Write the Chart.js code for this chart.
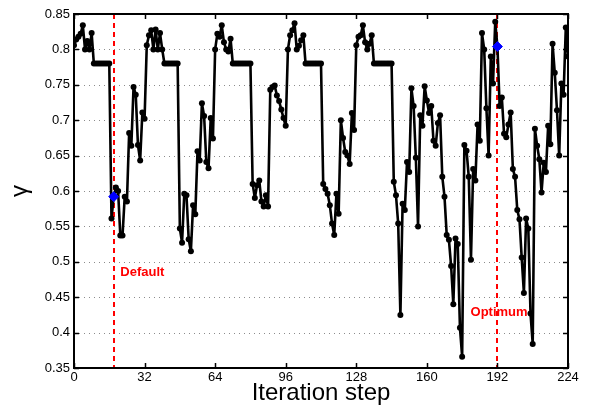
<!DOCTYPE html>
<html><head><meta charset="utf-8">
<script src="https://cdn.jsdelivr.net/npm/chart.js@4"></script>
<style>html,body{margin:0;padding:0;background:#fff}#wrap{width:590px;height:409px}</style>
</head><body><div id="wrap"><canvas id="c" width="590" height="409"></canvas></div>
<script>
const gammaValues = [
0.806,0.814,0.818,0.822,0.834,0.800,0.812,0.800,0.823,
0.780,0.780,0.780,0.780,0.780,0.780,0.780,0.780,
0.561,0.592,0.605,0.600,0.537,0.537,0.592,0.585,
0.682,0.664,0.747,0.736,0.665,0.643,0.711,0.702,
0.806,0.820,0.827,0.800,0.828,0.800,0.823,0.800,
0.780,0.780,0.780,0.780,0.780,0.780,0.780,
0.547,0.527,0.596,0.594,0.532,0.515,0.580,0.567,
0.656,0.643,0.724,0.706,0.641,0.632,0.703,0.674,
0.800,0.822,0.818,0.834,0.810,0.800,0.797,0.815,
0.780,0.780,0.780,0.780,0.780,0.780,0.780,0.780,0.780,
0.610,0.590,0.608,0.615,0.585,0.578,0.594,0.578,
0.743,0.747,0.749,0.735,0.727,0.715,0.703,0.692,
0.800,0.820,0.827,0.837,0.800,0.805,0.813,0.820,
0.780,0.780,0.780,0.780,0.780,0.780,0.780,0.780,
0.610,0.603,0.596,0.580,0.554,0.538,0.596,0.568,
0.700,0.675,0.655,0.650,0.638,0.710,0.686,
0.806,0.818,0.820,0.834,0.810,0.800,0.808,0.820,
0.780,0.780,0.780,0.780,0.780,0.780,0.780,0.780,0.780,
0.613,0.594,0.554,0.425,0.582,0.573,0.641,0.627,
0.745,0.720,0.647,0.550,
0.707,0.692,0.748,0.728,0.710,0.720,0.671,0.664,
0.696,0.707,0.620,0.592,0.538,0.531,0.494,0.440,
0.533,0.525,0.407,0.366,0.665,0.657,0.620,0.503,
0.631,0.615,0.694,0.671,0.823,0.800,0.717,0.650,
0.790,0.752,0.839,0.804,
0.720,0.732,0.681,0.676,0.694,0.711,0.631,0.620,
0.573,0.560,0.506,0.456,0.561,0.547,0.427,0.384,
0.688,0.664,0.645,0.598,0.640,0.627,0.692,0.666,
0.808,0.767,0.714,0.650,0.752,0.736,0.831,0.790
];
const steps = gammaValues.map((_, i) => i);
const xTicks = [0, 32, 64, 96, 128, 160, 192, 224];
const yTicks = [0.35, 0.4, 0.45, 0.5, 0.55, 0.6, 0.65, 0.7, 0.75, 0.8, 0.85];
const markerSteps = [18, 192];
const markerLabels = ['Default', 'Optimum'];
const markerLabelPos = [[21.0, 0.485], [179.8, 0.428]];
const xTitle = 'Iteration step';
const yTitle = 'γ';

const FONT = '"Liberation Sans", Arial, Helvetica, sans-serif';

const decor = {
  id: 'decor',
  beforeDatasetsDraw(chart) {
    const {ctx, chartArea: a, scales: {x, y}} = chart;
    ctx.save();
    ctx.strokeStyle = '#8c8c8c'; ctx.lineWidth = 1; ctx.setLineDash([1, 4]);
    yTicks.forEach(v => {
      if (v <= y.min + 1e-9 || v >= y.max - 1e-9) return;
      const py = Math.round(y.getPixelForValue(v)) + 0.5;
      ctx.beginPath(); ctx.moveTo(a.left, py); ctx.lineTo(a.right, py); ctx.stroke();
    });
    ctx.fillStyle = '#ff0000';
    ctx.font = 'bold 13px ' + FONT;
    ctx.textAlign = 'left'; ctx.textBaseline = 'middle';
    markerLabels.forEach((t, i) => {
      ctx.fillText(t, x.getPixelForValue(markerLabelPos[i][0]), y.getPixelForValue(markerLabelPos[i][1]));
    });
    ctx.strokeStyle = '#ff0000'; ctx.lineWidth = 2; ctx.setLineDash([5, 4]);
    markerSteps.forEach(s => {
      const px = Math.round(x.getPixelForValue(s));
      ctx.beginPath(); ctx.moveTo(px, a.top); ctx.lineTo(px, a.bottom); ctx.stroke();
    });
    ctx.restore();
  },
  afterDraw(chart) {
    const {ctx, chartArea: a, scales: {x, y}} = chart;
    ctx.save();
    ctx.setLineDash([]);
    ctx.strokeStyle = '#000'; ctx.lineWidth = 1.5;
    xTicks.forEach(v => {
      const px = Math.round(x.getPixelForValue(v)) + 0.5;
      ctx.beginPath(); ctx.moveTo(px, a.bottom); ctx.lineTo(px, a.bottom - 5);
      ctx.moveTo(px, a.top); ctx.lineTo(px, a.top + 5); ctx.stroke();
    });
    yTicks.forEach(v => {
      const py = Math.round(y.getPixelForValue(v)) + 0.5;
      ctx.beginPath(); ctx.moveTo(a.left, py); ctx.lineTo(a.left + 5, py);
      ctx.moveTo(a.right, py); ctx.lineTo(a.right - 5, py); ctx.stroke();
    });
    ctx.lineWidth = 2;
    ctx.strokeRect(a.left, a.top, a.right - a.left, a.bottom - a.top);
    ctx.fillStyle = '#000';
    ctx.font = '24px ' + FONT;
    ctx.textAlign = 'center'; ctx.textBaseline = 'middle';
    ctx.fillText(xTitle, (a.left + a.right) / 2, 393);
    ctx.save();
    ctx.translate(20, (a.top + a.bottom) / 2);
    ctx.rotate(-Math.PI / 2);
    ctx.font = '24px ' + FONT;
    ctx.fillText(yTitle, 0, 0);
    ctx.restore();
    ctx.restore();
  }
};

new Chart(document.getElementById('c'), {
  type: 'line',
  data: {
    datasets: [
      {
        label: 'markers',
        data: markerSteps.map(s => ({x: s, y: gammaValues[s]})),
        showLine: false,
        pointStyle: 'rectRot',
        pointRadius: 5,
        pointBackgroundColor: '#0000ff',
        pointBorderColor: '#0000ff',
        order: 0
      },
      {
        label: 'gamma',
        data: steps.map((s, i) => ({x: s, y: gammaValues[i]})),
        borderColor: '#000',
        borderWidth: 2.6,
        borderJoinStyle: 'round',
        borderCapStyle: 'round',
        pointRadius: 3,
        pointBackgroundColor: '#000',
        pointBorderWidth: 0,
        tension: 0,
        order: 1
      }
    ]
  },
  options: {
    responsive: false,
    animation: false,
    layout: {padding: {top: 14, right: 22, left: 0, bottom: 0}},
    plugins: {legend: {display: false}, tooltip: {enabled: false}},
    scales: {
      x: {
        type: 'linear', min: 0, max: 224,
        afterFit(s) { s.height = 41; },
        afterBuildTicks(s) { s.ticks = xTicks.map(v => ({value: v})); },
        grid: {display: false, drawTicks: false},
        border: {display: false},
        ticks: {color: '#000', font: {family: FONT, size: 13}, padding: 2, maxRotation: 0,
                callback: v => String(v)}
      },
      y: {
        type: 'linear', min: 0.35, max: 0.85,
        afterFit(s) { s.width = 74; },
        afterBuildTicks(s) { s.ticks = yTicks.map(v => ({value: v})); },
        grid: {display: false, drawTicks: false},
        border: {display: false},
        ticks: {color: '#000', font: {family: FONT, size: 13}, padding: 4,
                callback: v => String(Number(v.toFixed(2)))}
      }
    }
  },
  plugins: [decor]
});
</script>
</body></html>
